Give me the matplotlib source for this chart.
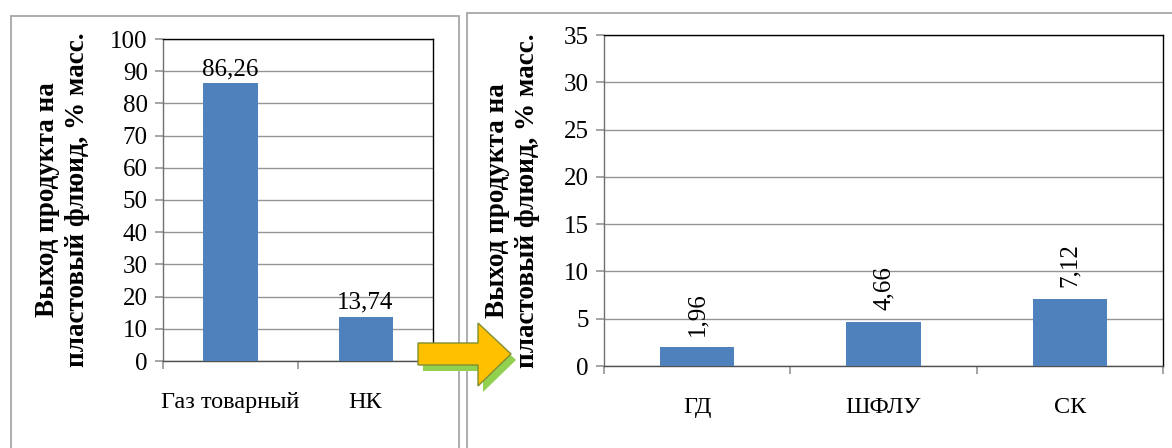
import matplotlib.pyplot as plt
from matplotlib.patches import Rectangle, Polygon

plt.rcParams['font.family'] = ['Liberation Serif', 'DejaVu Serif']

# product yields, % mass
left_cats = ["Газ товарный", "НК"]
left_vals = [86.26, 13.74]
right_cats = ["ГД", "ШФЛУ", "СК"]
right_vals = [1.96, 4.66, 7.12]

ylabel = "Выход продукта на\nпластовый флюид, % масс."
bar_color = "#4F81BD"
grid_color = "#959595"

W, H = 1172, 448
fig = plt.figure(figsize=(W / 100, H / 100), dpi=100)


def px(x, y):
    # pixel coords (top-left origin) -> figure fraction
    return x / W, 1 - y / H


def style_axes(ax, cats, vals, ymax, ystep, rot, ylab_x):
    x = list(range(len(cats)))
    ax.bar(x, vals, width=0.4, color=bar_color, zorder=3)
    ax.set_xlim(-0.5, len(cats) - 0.5)
    ax.set_ylim(0, ymax)
    ax.set_yticks(range(0, ymax + 1, ystep))
    ax.set_xticks(x)
    ax.set_xticklabels(cats, fontsize=17.5)
    ax.set_xticks([i - 0.5 for i in range(len(cats) + 1)], minor=True)
    ax.tick_params(axis='x', which='major', length=0, pad=22)
    ax.tick_params(axis='x', which='minor', length=6, color=grid_color, width=1.2)
    ax.tick_params(axis='y', length=6, color=grid_color, width=1.2, labelsize=18, pad=5)
    ax.yaxis.grid(True, color=grid_color, linewidth=1.0, zorder=0)
    ax.set_axisbelow(True)
    for s in ax.spines.values():
        s.set_color("black")
        s.set_linewidth(1.0)
    ax.spines['left'].set_color("#707070")
    ax.spines['bottom'].set_color("#505050")
    ax.set_ylabel(ylabel, fontsize=19.5, fontweight='bold', linespacing=1.25)
    ax.yaxis.set_label_coords(ylab_x, 0.5)
    for xi, v in zip(x, vals):
        txt = f"{v:.2f}".replace(".", ",")
        if rot:
            ax.text(xi, v + ymax * 0.035, txt, rotation=90, ha='center', va='bottom', fontsize=18)
        else:
            ax.text(xi, v + ymax * 0.01, txt, ha='center', va='bottom', fontsize=18)


# panel frames
x0, y0 = px(11, 448)
x1, y1 = px(459, 16)
fig.patches.append(Rectangle((x0, y0 - 0.01), x1 - x0, y1 - y0 + 0.01, transform=fig.transFigure,
                             fill=False, edgecolor="#A0A0A0", linewidth=1.2))
x0, y0 = px(467, 448)
x1, y1 = px(1180, 13)
fig.patches.append(Rectangle((x0, y0 - 0.01), x1 - x0, y1 - y0 + 0.01, transform=fig.transFigure,
                             fill=False, edgecolor="#A0A0A0", linewidth=1.2))

ax1 = fig.add_axes([163 / W, 87 / H, 270 / W, 322 / H])
style_axes(ax1, left_cats, left_vals, 100, 10, False, -0.27)

ax2 = fig.add_axes([604 / W, 82 / H, 559 / W, 331 / H])
style_axes(ax2, right_cats, right_vals, 35, 5, True, -0.115)

# block arrow between the charts
arrow_px = [(418, 343), (478, 343), (478, 323), (511, 354), (478, 386), (478, 365), (418, 365)]
shadow = [px(x + 5, y + 6) for x, y in arrow_px]
fig.patches.append(Polygon(shadow, closed=True, transform=fig.transFigure,
                           facecolor="#92D050", edgecolor="none", zorder=10))
fig.patches.append(Polygon([px(x, y) for x, y in arrow_px], closed=True, transform=fig.transFigure,
                           facecolor="#FFC000", edgecolor="#7F8F30", linewidth=1.0, zorder=11))

fig.savefig("out.png", dpi=100)
